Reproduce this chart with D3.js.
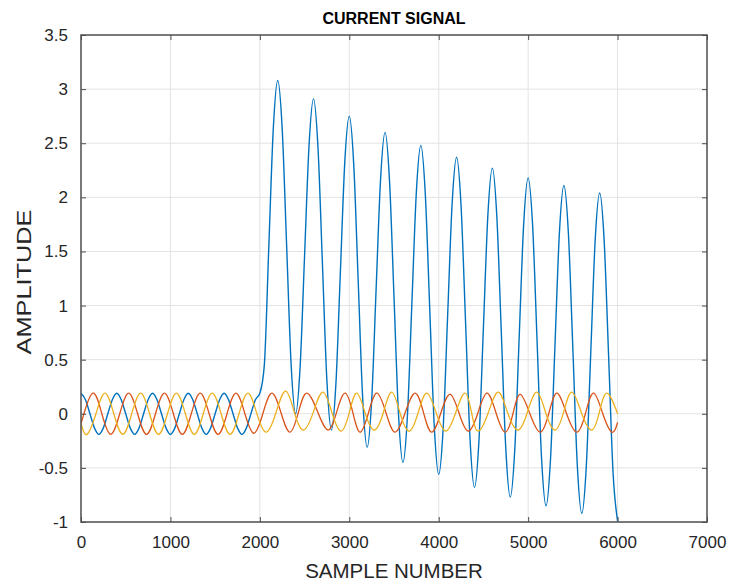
<!DOCTYPE html>
<html>
<head>
<meta charset="utf-8">
<script src="https://cdn.jsdelivr.net/npm/d3@7"></script>
<style>
  body { margin: 0; background: #fff; }
  text { font-family: "Liberation Sans", Arial, Helvetica, sans-serif; fill: #262626; }
</style>
</head>
<body>
<svg id="chart"></svg>
<script>
// tick labels
const xTicks = [0, 1000, 2000, 3000, 4000, 5000, 6000, 7000];
const yTicks = [-1, -0.5, 0, 0.5, 1, 1.5, 2, 2.5, 3, 3.5];

// phase A (blue), one value every 50 samples, 0..6000
const blueStep = 50;
const blueValues = [
  0.19, 0.13, 0, -0.13, -0.19, -0.13, 0, 0.13,
  0.19, 0.13, 0, -0.13, -0.19, -0.13, 0, 0.13,
  0.19, 0.13, 0, -0.13, -0.19, -0.13, 0, 0.13,
  0.19, 0.13, 0, -0.13, -0.19, -0.13, 0, 0.13,
  0.19, 0.13, 0, -0.13, -0.19, -0.13, 0, 0.13,
  0.19, 0.45, 1.54, 2.63, 3.08, 2.63, 1.54, 0.45,
  0.0, 0.43, 1.46, 2.48, 2.91, 2.46, 1.38, 0.30,
  -0.15, 0.27, 1.30, 2.33, 2.75, 2.30, 1.22, 0.14,
  -0.31, 0.12, 1.15, 2.17, 2.60, 2.15, 1.08, 0.0,
  -0.45, -0.02, 1.02, 2.05, 2.48, 2.03, 0.96, -0.11,
  -0.56, -0.13, 0.91, 1.94, 2.37, 1.92, 0.85, -0.23,
  -0.68, -0.25, 0.80, 1.84, 2.27, 1.82, 0.75, -0.32,
  -0.77, -0.34, 0.71, 1.75, 2.18, 1.74, 0.67, -0.41,
  -0.85, -0.42, 0.63, 1.68, 2.11, 1.67, 0.60, -0.48,
  -0.92, -0.49, 0.56, 1.61, 2.04, 1.60, 0.53, -0.55,
  -0.99
];

// phase B (red), [sample, value] at peaks / crossings / troughs
const redPoints = [
  [0, -0.09], [33, 0], [133, 0.19], [233, 0], [333, -0.19], [433, 0], [533, 0.19], [633, 0],
  [733, -0.19], [833, 0], [933, 0.19], [1033, 0], [1133, -0.19], [1233, 0], [1333, 0.19],
  [1433, 0], [1533, -0.19], [1633, 0], [1733, 0.19], [1833, 0], [1933, -0.18], [2033, 0.0],
  [2135, 0.19], [2240, 0.0], [2338, -0.17], [2430, 0.01], [2524, 0.19], [2645, 0.02],
  [2763, -0.15], [2860, 0.02], [2953, 0.19], [3040, 0.01], [3121, -0.17], [3215, 0.01],
  [3308, 0.19], [3410, 0.01], [3512, -0.17], [3625, 0.01], [3736, 0.19], [3830, 0.01],
  [3922, -0.17], [4025, 0.01], [4128, 0.18], [4230, 0.0], [4330, -0.16], [4435, 0.0],
  [4538, 0.19], [4640, 0.01], [4743, -0.17], [4830, 0.0], [4911, 0.18], [5020, 0.0],
  [5134, -0.17], [5230, 0.0], [5321, 0.19], [5430, 0.0], [5545, -0.17], [5640, 0.0],
  [5731, 0.19], [5835, 0.0], [5936, -0.17], [6000, -0.08]
];

// phase C (yellow)
const yellowPoints = [
  [0, -0.09], [67, -0.19], [167, 0], [267, 0.19], [367, 0], [467, -0.19], [567, 0], [667, 0.19],
  [767, 0], [867, -0.19], [967, 0], [1067, 0.19], [1167, 0], [1267, -0.19], [1367, 0],
  [1467, 0.19], [1567, 0], [1667, -0.19], [1767, 0], [1867, 0.19], [1967, 0], [2070, -0.17],
  [2180, 0.01], [2290, 0.21], [2390, 0.0], [2490, -0.15], [2600, 0.02], [2707, 0.20],
  [2810, 0.0], [2910, -0.16], [3000, 0.01], [3084, 0.19], [3180, 0.0], [3280, -0.15],
  [3380, 0.01], [3475, 0.20], [3570, 0.0], [3670, -0.16], [3770, 0.01], [3867, 0.19],
  [3975, 0.0], [4080, -0.16], [4190, 0.01], [4295, 0.19], [4370, 0.0], [4440, -0.16],
  [4550, 0.0], [4665, 0.20], [4775, 0.0], [4888, -0.15], [4990, 0.01], [5097, 0.20],
  [5200, 0.0], [5302, -0.15], [5395, 0.01], [5489, 0.20], [5600, 0.0], [5712, -0.15],
  [5795, 0.01], [5880, 0.19], [6000, 0.0]
];

const margin = {top: 35, right: 22, bottom: 60, left: 81};
const W = 729, H = 582;
const width = W - margin.left - margin.right;
const height = H - margin.top - margin.bottom;

const svg = d3.select("#chart")
  .attr("width", W)
  .attr("height", H);

const g = svg.append("g")
  .attr("transform", "translate(" + margin.left + "," + margin.top + ")");

const x = d3.scaleLinear().domain([0, 7000]).range([0, width]);
const y = d3.scaleLinear().domain([-1, 3.5]).range([height, 0]);

// plain labels with a hyphen minus, like matlab
const plain = d => String(d);

// grid
g.append("g")
  .selectAll("line")
  .data(xTicks.slice(1, -1))
  .join("line")
  .attr("x1", d => x(d)).attr("x2", d => x(d))
  .attr("y1", 0).attr("y2", height)
  .style("stroke", "#e3e3e3");

g.append("g")
  .selectAll("line")
  .data(yTicks.slice(1, -1))
  .join("line")
  .attr("x1", 0).attr("x2", width)
  .attr("y1", d => y(d)).attr("y2", d => y(d))
  .style("stroke", "#e3e3e3");

g.append("clipPath").attr("id", "clip")
  .append("rect").attr("width", width).attr("height", height);

const line = d3.line()
  .x(d => x(d[0]))
  .y(d => y(d[1]));

const bluePoints = blueValues.map((v, i) => [i * blueStep, v]);

const series = [
  {data: bluePoints, color: "#0072BD", curve: d3.curveMonotoneX, w: 1.4},
  {data: redPoints, color: "#D95319", curve: d3.curveNatural, w: 1.3},
  {data: yellowPoints, color: "#EDB120", curve: d3.curveNatural, w: 1.3}
];

const plot = g.append("g").attr("clip-path", "url(#clip)");
series.forEach(s => {
  plot.append("path")
    .attr("d", line.curve(s.curve)(s.data))
    .style("fill", "none")
    .style("stroke", s.color)
    .style("stroke-width", s.w)
    .style("stroke-linejoin", "round");
});

// axes, ticks inward on all four sides (matlab box)
const axisColor = "#4d4d4d";
g.append("g")
  .attr("transform", "translate(0," + height + ")")
  .call(d3.axisBottom(x).tickValues(xTicks).tickFormat(plain).tickSizeInner(-5).tickSizeOuter(0).tickPadding(14))
  .call(a => a.select(".domain").remove())
  .call(a => a.selectAll("line").style("stroke", axisColor))
  .call(a => a.selectAll("text").style("font-size", "17px").style("fill", "#262626")
    .style("font-family", "'Liberation Sans', Arial, sans-serif"));

g.append("g")
  .call(d3.axisLeft(y).tickValues(yTicks).tickFormat(plain).tickSizeInner(-5).tickSizeOuter(0).tickPadding(13))
  .call(a => a.select(".domain").remove())
  .call(a => a.selectAll("line").style("stroke", axisColor))
  .call(a => a.selectAll("text").style("font-size", "17px").style("fill", "#262626")
    .style("font-family", "'Liberation Sans', Arial, sans-serif"));

g.append("g")
  .call(d3.axisTop(x).tickValues(xTicks).tickFormat("").tickSizeInner(-5).tickSizeOuter(0))
  .call(a => a.select(".domain").remove())
  .call(a => a.selectAll("line").style("stroke", axisColor));

g.append("g")
  .attr("transform", "translate(" + width + ",0)")
  .call(d3.axisRight(y).tickValues(yTicks).tickFormat("").tickSizeInner(-5).tickSizeOuter(0))
  .call(a => a.select(".domain").remove())
  .call(a => a.selectAll("line").style("stroke", axisColor));

g.append("rect")
  .attr("width", width)
  .attr("height", height)
  .style("fill", "none")
  .style("stroke", axisColor)
  .style("stroke-width", 1.5);

// title
svg.append("text")
  .attr("x", margin.left + width / 2)
  .attr("y", 24)
  .style("text-anchor", "middle")
  .style("font-size", "16px")
  .style("font-weight", "bold")
  .style("fill", "#000")
  .text("CURRENT SIGNAL");

// X axis label
svg.append("text")
  .attr("x", margin.left + width / 2)
  .attr("y", 578)
  .style("text-anchor", "middle")
  .style("font-size", "20.5px")
  .text("SAMPLE NUMBER");

// Y axis label
svg.append("text")
  .attr("transform", "translate(31,282) rotate(-90)")
  .style("text-anchor", "middle")
  .style("font-size", "21px")
  .attr("textLength", 145)
  .attr("lengthAdjust", "spacingAndGlyphs")
  .text("AMPLITUDE");
</script>
</body>
</html>
